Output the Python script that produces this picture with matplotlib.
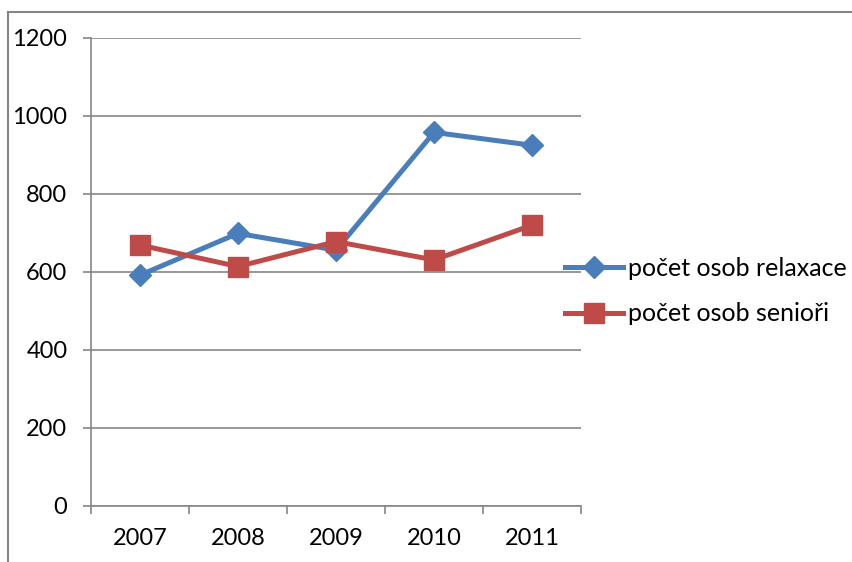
import matplotlib
matplotlib.use("Agg")
import matplotlib.pyplot as plt
from matplotlib.lines import Line2D

years = ["2007", "2008", "2009", "2010", "2011"]
relaxace = [592, 699, 656, 958, 925]
seniori = [669, 614, 678, 631, 720]
y_ticks = [0, 200, 400, 600, 800, 1000, 1200]

BLUE = "#4A7EBB"
RED = "#BE4B48"
GRID = "#868686"

plt.rcParams["font.family"] = ["Lato", "DejaVu Sans"]

fig = plt.figure(figsize=(8.52, 5.62), dpi=100)
ax = fig.add_axes([91 / 852, 1 - 506 / 562, 490 / 852, 468 / 562])

x = list(range(len(years)))
ax.plot(x, relaxace, color=BLUE, lw=3.6, marker="D", ms=11,
        label="počet osob relaxace", solid_joinstyle="round", zorder=3)
ax.plot(x, seniori, color=RED, lw=3.6, marker="s", ms=14,
        label="počet osob senioři", solid_joinstyle="round", zorder=3)

ax.set_xlim(-0.5, len(years) - 0.5)
ax.set_ylim(0, 1200)
ax.set_yticks(y_ticks)
ax.yaxis.grid(True, color=GRID, lw=1.2)
ax.set_axisbelow(True)

# category ticks sit on bin boundaries, labels in the middle
ax.set_xticks([i - 0.5 for i in range(len(years) + 1)])
ax.set_xticklabels([])
ax.set_xticks(x, minor=True)
ax.set_xticklabels(years, minor=True)
ax.tick_params(axis="x", which="major", direction="out", length=6, width=1.2, color=GRID)
ax.tick_params(axis="x", which="minor", length=0, pad=16, labelsize=17)
ax.tick_params(axis="y", direction="out", length=6, width=1.2, color=GRID, pad=11, labelsize=17)

for side in ("top", "right"):
    ax.spines[side].set_visible(False)
for side in ("left", "bottom"):
    ax.spines[side].set_color(GRID)
    ax.spines[side].set_linewidth(1.2)

ax.legend(loc="center left", bbox_to_anchor=(565 / 852, 1 - 291 / 562),
          bbox_transform=fig.transFigure, frameon=False, fontsize=18,
          handlelength=2.3, handletextpad=0.2, labelspacing=0.9,
          borderpad=0, borderaxespad=0)

# outer chart frame (left and top edges visible)
fig.add_artist(Line2D([8 / 852, 8 / 852], [0, 1 - 12 / 562], color=GRID, lw=1.5,
                      transform=fig.transFigure))
fig.add_artist(Line2D([8 / 852, 1], [1 - 12 / 562, 1 - 12 / 562], color=GRID, lw=1.5,
                      transform=fig.transFigure))

fig.savefig("out.png", dpi=100)
